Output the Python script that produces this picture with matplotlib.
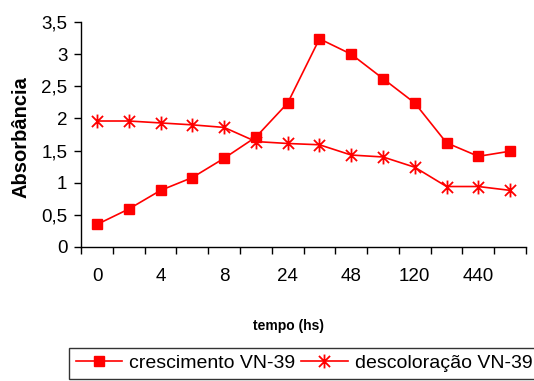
import matplotlib.pyplot as plt
from matplotlib.path import Path

plt.rcParams['font.family'] = ['Liberation Sans', 'DejaVu Sans']

# dados
tempo = ['0', '2', '4', '6', '8', '12', '24', '36', '48', '72', '120', '240', '440', '480']
crescimento = [0.35, 0.59, 0.88, 1.08, 1.38, 1.71, 2.24, 3.24, 3.0, 2.62, 2.24, 1.62, 1.41, 1.49]
descoloracao = [1.96, 1.96, 1.93, 1.90, 1.86, 1.64, 1.61, 1.59, 1.43, 1.40, 1.24, 0.94, 0.94, 0.88]
yticks = [0, 0.5, 1, 1.5, 2, 2.5, 3, 3.5]
ytick_labels = ['0', '0,5', '1', '1,5', '2', '2,5', '3', '3,5']

# asterisco estilo Excel (X + barra vertical)
asterisco = Path([(0, -1), (0, 1), (-0.8, -0.8), (0.8, 0.8), (-0.8, 0.8), (0.8, -0.8)],
                 [Path.MOVETO, Path.LINETO, Path.MOVETO, Path.LINETO, Path.MOVETO, Path.LINETO])

fig = plt.figure(figsize=(5.34, 3.81), dpi=100)
ax = fig.add_axes([0.152, 0.352, 0.833, 0.59])

x = list(range(len(tempo)))
ax.plot(x, crescimento, color='#ff0000', lw=1.2, marker='s', ms=7,
        label='crescimento VN-39')
ax.plot(x, descoloracao, color='#ff0000', lw=1.2, marker=asterisco, ms=10,
        mew=1.3, mec='#ff0000', mfc='none', label='descoloração VN-39')

ax.set_xlim(-0.5, len(tempo) - 0.5)
ax.set_ylim(0, 3.5)
ax.set_yticks(yticks)
ax.set_yticklabels(ytick_labels)

ax.set_xticks(x[::2])
ax.set_xticklabels(tempo[::2])
ax.set_xticks([i - 0.5 for i in range(len(tempo) + 1)], minor=True)
ax.tick_params(axis='x', which='major', length=0, pad=15, labelsize=13.5)
ax.tick_params(axis='x', which='minor', length=5, width=1, direction='out')
ax.tick_params(axis='y', length=5, width=1, direction='out', pad=5, labelsize=13.5)

for s in ['top', 'right']:
    ax.spines[s].set_visible(False)
for s in ['left', 'bottom']:
    ax.spines[s].set_linewidth(1)

ax.set_ylabel('Absorbância', fontsize=14.5, fontweight='bold')
ax.yaxis.set_label_coords(-0.115, 0.49)
ax.set_xlabel('tempo (hs)', fontsize=10, fontweight='bold')
ax.xaxis.set_label_coords(0.467, -0.32)

leg = fig.legend(loc='upper left', bbox_to_anchor=(0.129, 0.087), ncol=2,
                 fontsize=14, frameon=True, fancybox=False, edgecolor='black',
                 handlelength=2.4, handletextpad=0.35, columnspacing=0.3,
                 borderpad=0.35, borderaxespad=0)
leg.get_frame().set_linewidth(1)

fig.savefig('out.png', dpi=100)
